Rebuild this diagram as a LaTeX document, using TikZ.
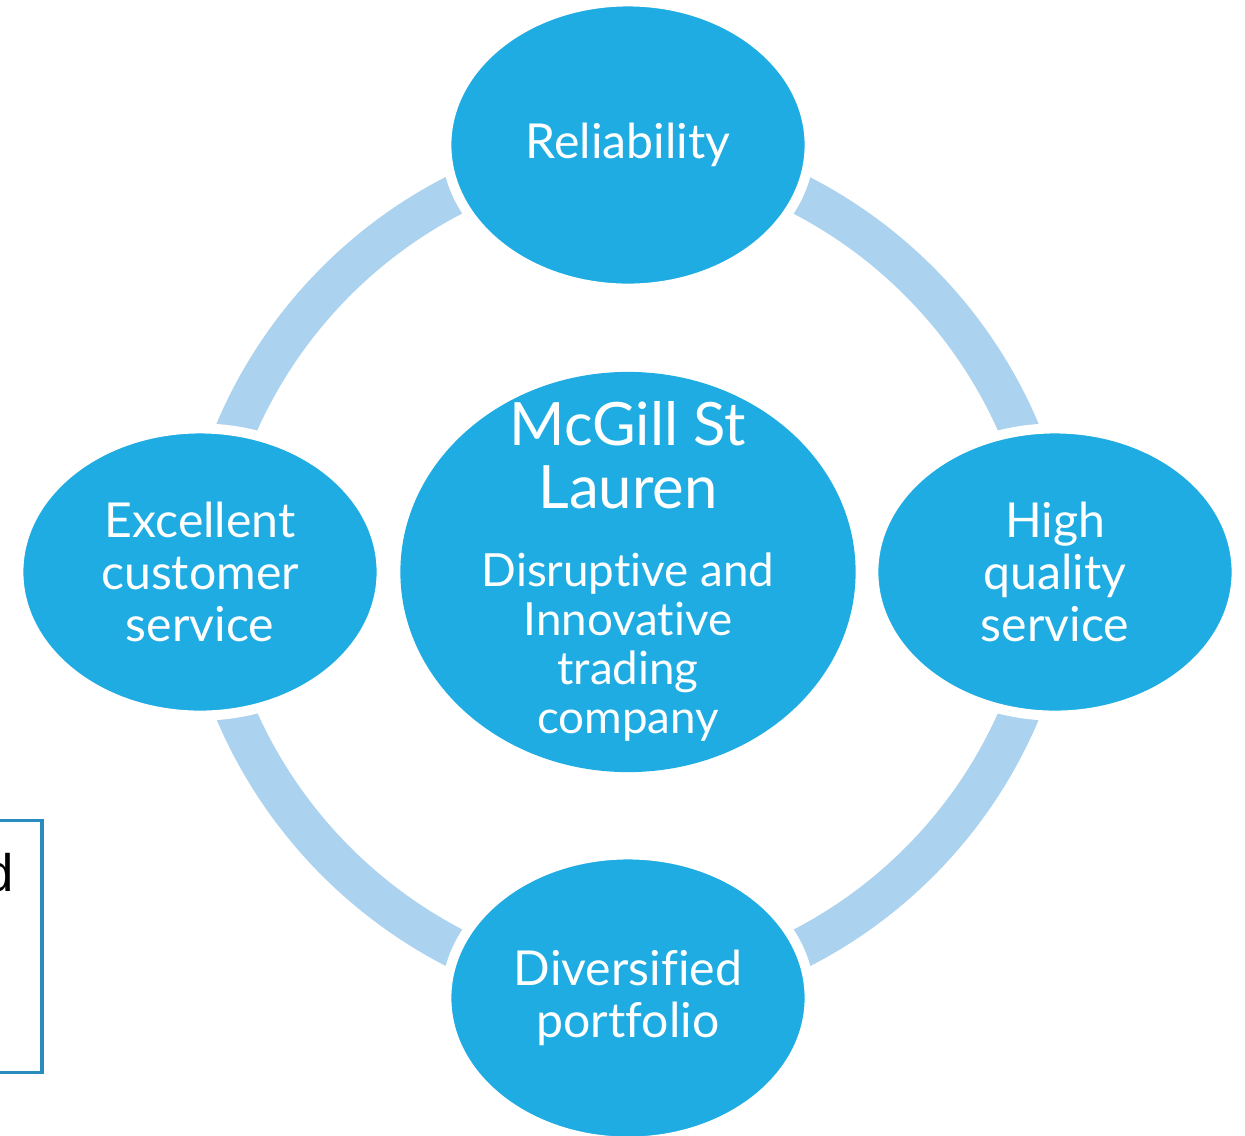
\documentclass[tikz,border=0pt]{standalone}
\usepackage{fontspec}
\setmainfont{Lato}[Ligatures={NoCommon}]
\newfontfamily\boxfont{Liberation Sans}
\usetikzlibrary{shapes.geometric,backgrounds}
\definecolor{petal}{RGB}{30,172,227}
\definecolor{ringblue}{RGB}{171,210,238}
\definecolor{frameblue}{RGB}{42,140,190}
\begin{document}
\begin{tikzpicture}[x=0.01cm, y=-0.01cm,
        petal/.style={ellipse, fill=petal, draw=white, line width=0.1cm,
            minimum width=3.63cm, minimum height=2.87cm, inner sep=0pt,
            text=white, align=center, font=\fontsize{13.7}{14.8}\selectfont},
        hub/.style={ellipse, fill=petal, minimum width=4.55cm, minimum height=4cm, inner sep=0pt},
        hubtext/.style={text=white, align=center, inner sep=0pt},
        ring/.style={draw=ringblue, line width=0.4cm},
        framebox/.style={draw=frameblue, line width=0.03cm}]
                \useasboundingbox (0,0) rectangle (1245,1135);
                \node [petal] (0) at (628,145) {Reliability};
                \node [petal] (1) at (200,572) {Excellent\\customer\\service};
                \node [petal] (2) at (1055,572) {High\\quality\\service};
                \node [petal] (3) at (628,998) {Diversified\\portfolio};
                \node [hub] (4) at (628,572) {};
                \node [hubtext, font=\fontsize{17}{17.9}\selectfont, yshift=1.17cm] (5) at (4) {McGill St\\Lauren};
                \node [hubtext, font=\fontsize{13}{13.9}\selectfont, yshift=-0.75cm] (6) at (4) {Disruptive and\\Innovative\\trading\\company};
                % ring behind the petals
                \begin{pgfonlayer}{background}
                \draw [ring, bend right=40, looseness=0.96] (0.center) to (1.center);
                \draw [ring, bend right=40, looseness=0.96] (1.center) to (3.center);
                \draw [ring, bend right=40, looseness=0.96] (3.center) to (2.center);
                \draw [ring, bend right=40, looseness=0.96] (2.center) to (0.center);
                \end{pgfonlayer}
                % cut-off text box on the left
                \draw [framebox] (-20,820) rectangle (42,1072);
                \node [anchor=base east, inner sep=0pt, font=\boxfont\fontsize{15}{18}\selectfont] (7) at (15,891) {d};
\end{tikzpicture}
\end{document}
